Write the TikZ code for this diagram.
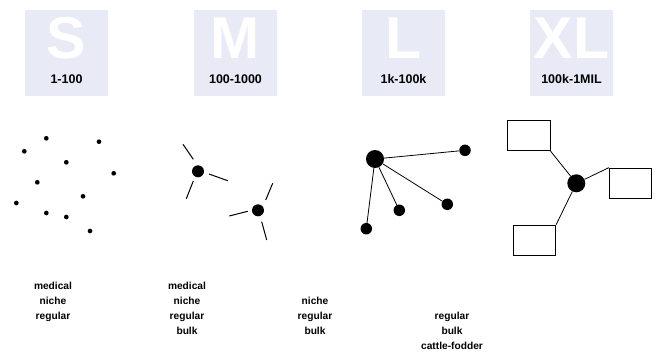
\documentclass[tikz,border=0pt]{standalone}
\usepackage{fontspec}
\setmainfont{Liberation Sans}
\usetikzlibrary{graphs}
\usetikzlibrary{calc}
\definecolor{boxbg}{RGB}{232,234,246}
\tikzset{
  sizebox/.style= {fill=boxbg, minimum width=83, minimum height=86, inner sep=0},
  letter/.style= {anchor=base, text=white, inner sep=0, font=\bfseries\fontsize{59}{59}\selectfont},
  rangetext/.style= {anchor=base, inner sep=0, font=\bfseries\fontsize{12.5}{14}\selectfont},
  desc/.style= {anchor=north, inner sep=0, align=center, font=\bfseries\fontsize{10.2}{15}\selectfont},
  dot/.style= {circle, fill, inner sep=0, minimum size=4.7},
  hub/.style= {circle, fill, inner sep=0, minimum size=12},
  bighub/.style= {circle, fill, inner sep=0, minimum size=18},
  leaf/.style= {circle, fill, inner sep=0, minimum size=11.5},
  store/.style= {draw, minimum width=42.5, minimum height=30.5, inner sep=0, line width=0.8},
  spoke/.style= {line width=1},
  link/.style= {line width=0.8},
}

\begin{document}
\begin{tikzpicture}[x=1pt, y=-1pt]
  \useasboundingbox (0,0) rectangle (660,351);

  % size classes
  \node [sizebox] (sbox) at (66.5,53) {} ;
  \node [sizebox] (mbox) at (235.5,53) {} ;
  \node [sizebox] (lbox) at (403.5,53) {} ;
  \node [sizebox] (xlbox) at (571.5,53) {} ;
  \node [letter] (s) at (66.5,58.3) {S} ;
  \node [letter] (m) at (235.5,58.3) {M} ;
  \node [letter] (l) at (403.5,58.3) {L} ;
  \node [letter] (xl) at (571.5,58.3) {XL} ;
  \node [rangetext] (srange) at (66.5,83.3) {1-100} ;
  \node [rangetext] (mrange) at (235.5,83.3) {100-1000} ;
  \node [rangetext] (lrange) at (403.5,83.3) {1k-100k} ;
  \node [rangetext] (xlrange) at (571.5,83.3) {100k-1MIL} ;

  % S: loose dots
  \foreach \x/\y [count=\i] in {46.3/138.3, 99/141.7, 24.3/151.3, 66.3/162.3,
      113.7/173.3, 37.3/182.3, 83/196.3, 16.3/203, 46.3/213, 66.3/217, 90/231}
    \node [dot] (s\i) at (\x,\y) {} ;

  % M: hubs with loose spokes
  \node [hub] (m1) at (198,171.3) {} ;
  \node [hub] (m2) at (258,210.3) {} ;
  \draw [spoke] ($(m1)+(-4.7,-12)$) -- ($(m1)+(-15,-27)$) ;
  \draw [spoke] ($(m1)+(11,2.7)$) -- ($(m1)+(29.7,9.4)$) ;
  \draw [spoke] ($(m1)+(-4.7,9.7)$) -- ($(m1)+(-11.7,27.4)$) ;
  \draw [spoke] ($(m2)+(7.7,-10.3)$) -- ($(m2)+(14.7,-27)$) ;
  \draw [spoke] ($(m2)+(-10.3,1)$) -- ($(m2)+(-28.7,5.7)$) ;
  \draw [spoke] ($(m2)+(3.7,11.4)$) -- ($(m2)+(8.7,29.7)$) ;

  % L: star
  \node [bighub] (lhub) at (375,159) {} ;
  \node [leaf] (l1) at (465,150.3) {} ;
  \node [leaf] (l2) at (447.3,204.3) {} ;
  \node [leaf] (l3) at (399.3,210.3) {} ;
  \node [leaf] (l4) at (366.3,228.7) {} ;
  \graph [edges={link}] {
    (lhub) -- {(l1), (l2), (l3), (l4)} ;
  } ;

  % XL: hub with boxes
  \node [bighub] (xhub) at (576.3,183.3) {} ;
  \node [store] (xa) at (528.7,135.2) {} ;
  \node [store] (xb) at (630.5,183.3) {} ;
  \node [store] (xc) at (534.5,240.3) {} ;
  \draw [link] (xhub) -- (xa.south east) ;
  \draw [link] (xhub) -- (xb.north west) ;
  \draw [link] (xhub) -- (xc.north east) ;

  % markets
  \node [desc] (sdesc) at (53,281.7) {medical\\niche\\regular} ;
  \node [desc] (mdesc) at (187,281.7) {medical\\niche\\regular\\bulk} ;
  \node [desc] (ldesc) at (315,296.7) {niche\\regular\\bulk} ;
  \node [desc] (xldesc) at (452,311.7) {regular\\bulk\\cattle-fodder} ;
\end{tikzpicture}
\end{document}
